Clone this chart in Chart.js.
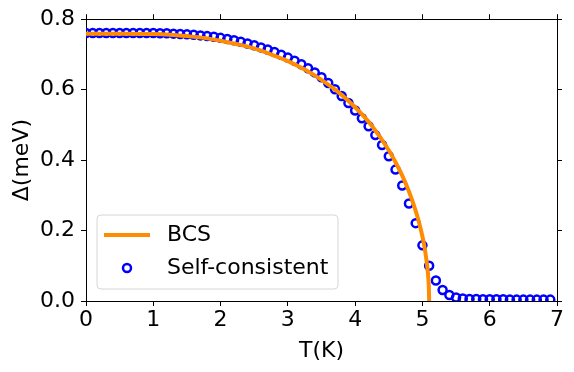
<!DOCTYPE html>
<html>
<head>
<meta charset="utf-8">
<script src="https://cdn.jsdelivr.net/npm/chart.js@4.4.1/dist/chart.umd.min.js"></script>
<style>
  html, body { margin: 0; padding: 0; background: #fff; }
  #wrap { width: 574px; height: 372px; }
</style>
</head>
<body>
<div id="wrap"><canvas id="gapChart" width="574" height="372"></canvas></div>
<script>
// BCS curve
const bcsT   = [0, 0.5, 1.0, 1.25, 1.5, 1.75, 2.0, 2.25, 2.5, 2.75, 3.0, 3.25, 3.5, 3.75, 4.0, 4.25, 4.5, 4.6, 4.7, 4.8, 4.9, 4.95, 5.0, 5.03, 5.06, 5.08, 5.09, 5.095, 5.1];
const bcsGap = [0.759, 0.759, 0.758, 0.756, 0.752, 0.747, 0.739, 0.729, 0.717, 0.700, 0.681, 0.657, 0.628, 0.593, 0.550, 0.497, 0.428, 0.394, 0.356, 0.311, 0.256, 0.223, 0.183, 0.154, 0.116, 0.083, 0.058, 0.041, 0];

// self-consistent points, one every 0.1 K
const scT = [0, 0.1, 0.2, 0.3, 0.4, 0.5, 0.6, 0.7, 0.8, 0.9,
             1.0, 1.1, 1.2, 1.3, 1.4, 1.5, 1.6, 1.7, 1.8, 1.9,
             2.0, 2.1, 2.2, 2.3, 2.4, 2.5, 2.6, 2.7, 2.8, 2.9,
             3.0, 3.1, 3.2, 3.3, 3.4, 3.5, 3.6, 3.7, 3.8, 3.9,
             4.0, 4.1, 4.2, 4.3, 4.4, 4.5, 4.6, 4.7, 4.8, 4.9,
             5.0, 5.1, 5.2, 5.3, 5.4, 5.5, 5.6, 5.7, 5.8, 5.9,
             6.0, 6.1, 6.2, 6.3, 6.4, 6.5, 6.6, 6.7, 6.8, 6.9];
const scGap = [0.761, 0.761, 0.761, 0.761, 0.761, 0.761, 0.761, 0.761, 0.761, 0.761,
               0.761, 0.760, 0.760, 0.759, 0.758, 0.757, 0.756, 0.754, 0.752, 0.750,
               0.747, 0.744, 0.740, 0.736, 0.731, 0.726, 0.720, 0.714, 0.707, 0.699,
               0.691, 0.682, 0.672, 0.661, 0.649, 0.635, 0.619, 0.601, 0.582, 0.562,
               0.541, 0.519, 0.496, 0.471, 0.443, 0.411, 0.373, 0.328, 0.277, 0.221,
               0.158, 0.100, 0.058, 0.031, 0.017, 0.010, 0.007, 0.006, 0.006, 0.005,
               0.005, 0.005, 0.005, 0.004, 0.004, 0.004, 0.004, 0.004, 0.004, 0.004];

const xTicks = [0, 1, 2, 3, 4, 5, 6, 7];
const yTicks = [0.0, 0.2, 0.4, 0.6, 0.8];

const FONT = 'DejaVu Sans';
const FSIZE = 22;

// legend drawn inside the plot, matplotlib style
const insideLegend = {
  id: 'insideLegend',
  afterDatasetsDraw(chart) {
    const c = chart.ctx;
    c.save();
    // frame
    const x = 97, y = 215, w = 241, h = 74, r = 4;
    c.beginPath();
    c.moveTo(x + r, y);
    c.arcTo(x + w, y, x + w, y + h, r);
    c.arcTo(x + w, y + h, x, y + h, r);
    c.arcTo(x, y + h, x, y, r);
    c.arcTo(x, y, x + w, y, r);
    c.closePath();
    c.fillStyle = 'rgba(255,255,255,0.8)';
    c.fill();
    c.strokeStyle = '#d6d6d6';
    c.lineWidth = 1;
    c.stroke();
    // BCS sample
    c.strokeStyle = '#ff8c00';
    c.lineWidth = 4;
    c.beginPath();
    c.moveTo(104, 235);
    c.lineTo(150, 235);
    c.stroke();
    // self-consistent sample
    c.strokeStyle = '#0000ff';
    c.lineWidth = 2.5;
    c.beginPath();
    c.arc(127, 268, 4, 0, Math.PI * 2);
    c.stroke();
    c.fillStyle = '#000';
    c.font = FSIZE + 'px "' + FONT + '"';
    c.textBaseline = 'middle';
    c.fillText('BCS', 167, 235);
    c.fillText('Self-consistent', 167, 268);
    c.restore();
  }
};

const axisBase = {
  type: 'linear',
  border: { display: true, color: '#000', width: 1 },
  grid: { drawOnChartArea: false, drawTicks: true, tickLength: 5, tickColor: '#000', tickWidth: 1 }
};

const ctx = document.getElementById('gapChart').getContext('2d');
new Chart(ctx, {
  type: 'scatter',
  data: {
    datasets: [
      {
        label: 'BCS',
        data: bcsT.map((t, i) => ({ x: t, y: bcsGap[i] })),
        showLine: true,
        borderColor: '#ff8c00',
        borderWidth: 4,
        pointRadius: 0,
        cubicInterpolationMode: 'monotone',
        order: 0
      },
      {
        label: 'Self-consistent',
        data: scT.map((t, i) => ({ x: t, y: scGap[i] })),
        showLine: false,
        pointStyle: 'circle',
        pointRadius: 4,
        borderWidth: 2.5,
        borderColor: '#0000ff',
        backgroundColor: 'rgba(0,0,0,0)',
        order: 1
      }
    ]
  },
  options: {
    responsive: false,
    animation: false,
    events: [],
    layout: { padding: 0 },
    plugins: { legend: { display: false }, tooltip: { enabled: false } },
    scales: {
      x: {
        ...axisBase,
        position: 'bottom',
        min: 0, max: 7,
        afterBuildTicks: s => { s.ticks = xTicks.map(v => ({ value: v })); },
        afterFit: s => { s.height = 71; },
        ticks: { color: '#000', padding: 1, font: { family: FONT, size: FSIZE }, maxRotation: 0,
                 callback: v => String(v) },
        title: { display: true, text: 'T(K)', color: '#000', font: { family: FONT, size: FSIZE },
                 padding: { top: 0, bottom: 8 } }
      },
      y: {
        ...axisBase,
        position: 'left',
        min: 0, max: 0.8,
        afterBuildTicks: s => { s.ticks = yTicks.map(v => ({ value: v })); },
        afterFit: s => { s.width = 86; },
        ticks: { color: '#000', padding: 6, font: { family: FONT, size: FSIZE },
                 callback: v => v.toFixed(1) },
        title: { display: true, text: 'Δ(meV)', color: '#000', font: { family: FONT, size: FSIZE },
                 padding: { top: 9, bottom: 0 } }
      },
      x2: {
        ...axisBase,
        position: 'top',
        min: 0, max: 7,
        afterBuildTicks: s => { s.ticks = xTicks.map(v => ({ value: v })); },
        afterFit: s => { s.height = 19; },
        ticks: { display: false }
      },
      y2: {
        ...axisBase,
        position: 'right',
        min: 0, max: 0.8,
        afterBuildTicks: s => { s.ticks = yTicks.map(v => ({ value: v })); },
        afterFit: s => { s.width = 17; },
        ticks: { display: false }
      }
    }
  },
  plugins: [insideLegend]
});
</script>
</body>
</html>
